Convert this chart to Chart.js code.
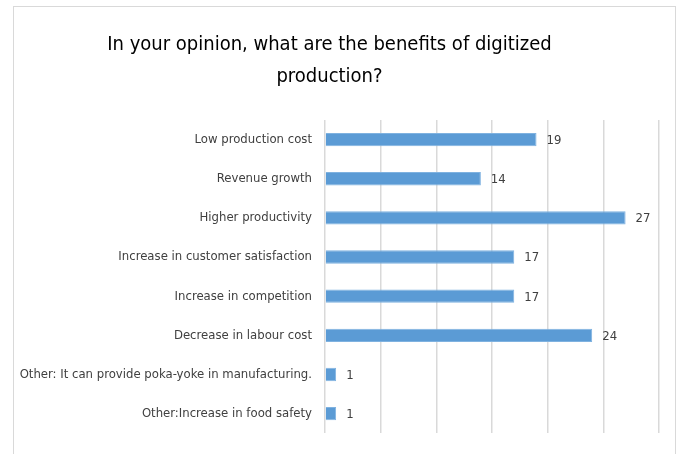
<!DOCTYPE html>
<html>
<head>
<meta charset="utf-8">
<script src="https://cdn.jsdelivr.net/npm/chart.js@4"></script>
<style>
  html, body { margin: 0; padding: 0; background: #fff; overflow: hidden; }
  #frame { position: absolute; left: 13px; top: 6px; width: 661px; height: 460px; border: 1px solid #d9d9d9; }
  #benefitsChart { position: absolute; left: 0; top: 0; }
</style>
</head>
<body>
<div id="frame"></div>
<canvas id="benefitsChart" width="683" height="454"></canvas>
<script>
// Datos de la encuesta
const categories = [
    'Low production cost',
    'Revenue growth',
    'Higher productivity',
    'Increase in customer satisfaction',
    'Increase in competition',
    'Decrease in labour cost',
    'Other: It can provide poka-yoke in manufacturing.',
    'Other:Increase in food safety'
];
const responses = [19, 14, 27, 17, 17, 24, 1, 1];
const axisMax = 30;
const axisStep = 5;

const FONT = "'DejaVu Sans Condensed', Lato, sans-serif";

// Etiquetas de valor al final de cada barra
const valueLabels = {
    id: 'valueLabels',
    afterDatasetsDraw(chart) {
        const ctx = chart.ctx;
        ctx.save();
        ctx.font = '13px ' + FONT;
        ctx.fillStyle = '#404040';
        ctx.textAlign = 'left';
        ctx.textBaseline = 'middle';
        chart.getDatasetMeta(0).data.forEach((bar, i) => {
            ctx.fillText(responses[i], bar.x + 10, bar.y + 1);
        });
        ctx.restore();
    }
};

document.addEventListener('DOMContentLoaded', function () {
    const ctx = document.getElementById('benefitsChart').getContext('2d');
    new Chart(ctx, {
        type: 'bar',
        data: {
            labels: categories,
            datasets: [{
                data: responses,
                backgroundColor: '#5b9bd5',
                borderColor: '#7fb2e0',
                borderWidth: 1,
                barPercentage: 0.34,
                categoryPercentage: 1
            }]
        },
        options: {
            indexAxis: 'y',
            responsive: false,
            animation: false,
            layout: { padding: { top: 0, right: 24, bottom: 17, left: 0 } },
            plugins: {
                legend: { display: false },
                tooltip: { enabled: false },
                title: {
                    display: true,
                    text: ['In your opinion, what are the benefits of digitized', 'production?'],
                    color: '#000',
                    font: { family: FONT, size: 20, weight: 'normal', lineHeight: 1.6 },
                    padding: { top: 29, bottom: 27 }
                }
            },
            scales: {
                x: {
                    min: 0,
                    max: axisMax,
                    ticks: { display: false, stepSize: axisStep },
                    grid: { color: '#d9d9d9', lineWidth: 1.5, drawTicks: false },
                    border: { display: false },
                    afterFit(scale) { scale.height = 0; }
                },
                y: {
                    grid: { display: false, drawTicks: false },
                    border: { display: false },
                    ticks: {
                        color: '#404040',
                        font: { family: FONT, size: 13 },
                        padding: 13
                    },
                    afterFit(scale) { scale.width = 325; }
                }
            }
        },
        plugins: [valueLabels]
    });
});
</script>
</body>
</html>
